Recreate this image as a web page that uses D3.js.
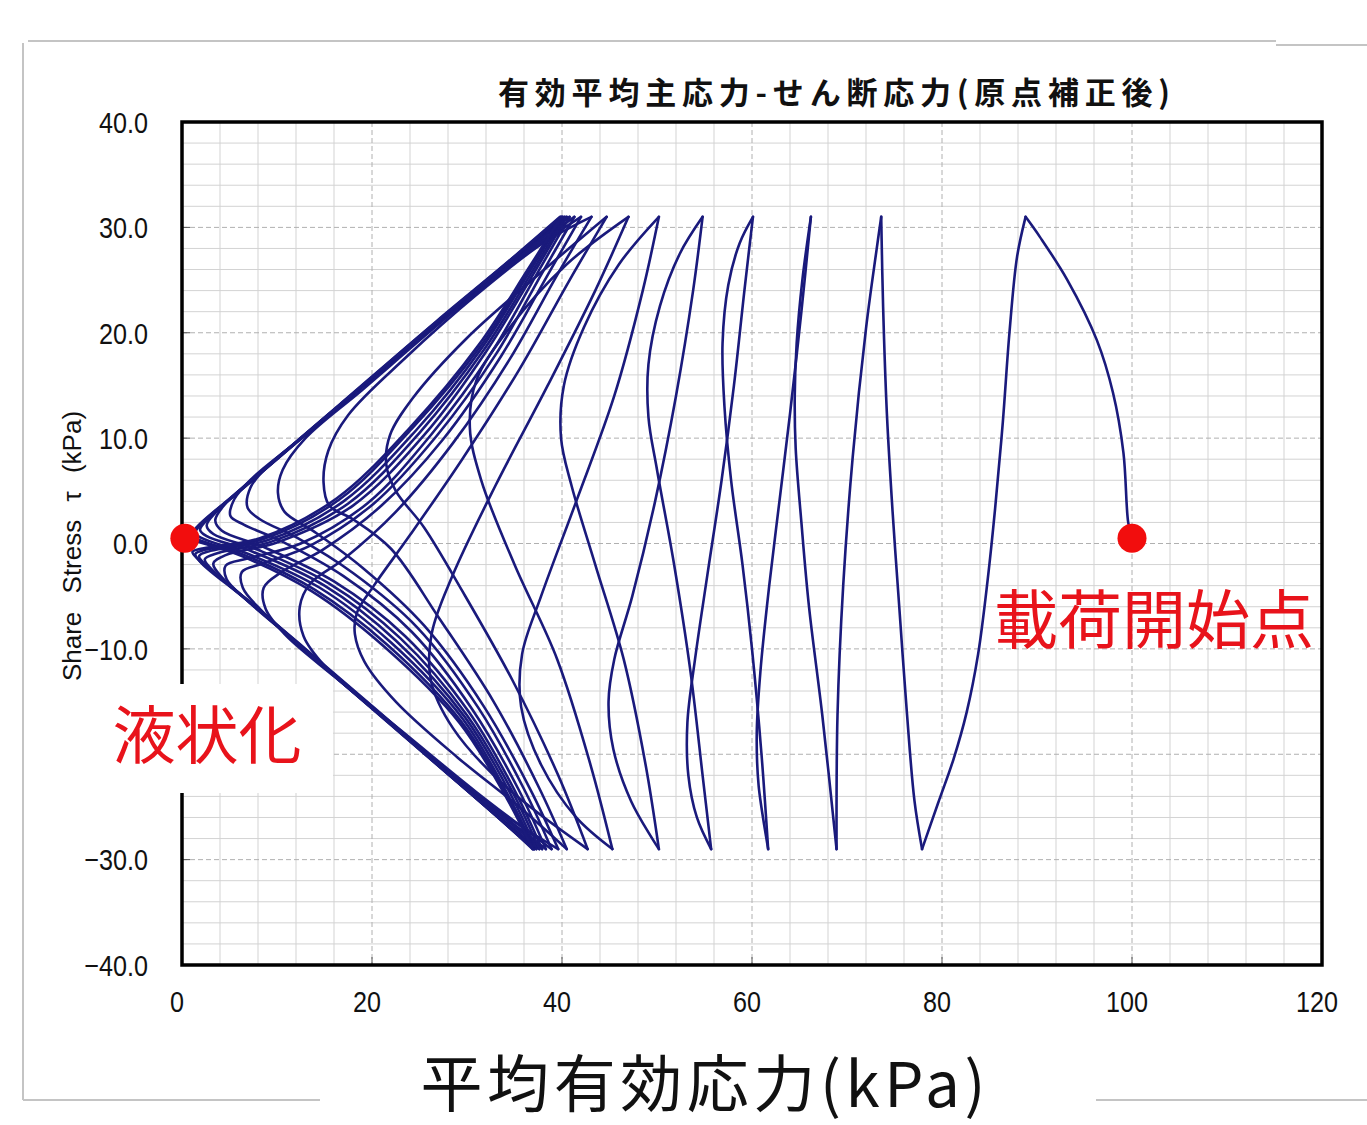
<!DOCTYPE html>
<html>
<head>
<meta charset="utf-8">
<script src="https://cdn.jsdelivr.net/npm/d3@7"></script>
<style>
  body { margin: 0; background: #fff; }
  svg { display: block; }
</style>
</head>
<body>
<div id="chart"></div>
<script>
// axis tick labels
const xTicks = [0, 20, 40, 60, 80, 100, 120];
const yTicks = [-40, -30, -20, -10, 0, 10, 20, 30, 40];

// marked points [p', tau]
const startPoint = [100, 0.5];
const liquefactionPoint = [0.3, 0.5];

// first loading from the start point up to the first compression peak
const firstLoading = [[100, 0.5], [99.6, 2], [99.1, 8.6], [98, 14.3], [96.3, 19.3], [93.2, 25], [90.3, 29.1], [88.8, 31]];

// one array per half cycle: peak -> trough, trough -> next peak
const earlyCycles = [
  [[88.8, 31], [87.9, 27.2], [87.1, 20], [86.4, 11.5], [85.6, 3.4], [84.8, -3.5], [83.8, -10.5], [82.6, -16], [81.2, -20.5], [79.6, -24.6], [77.9, -29]],
  [[77.9, -29], [77.1, -24.4], [76.3, -16], [75.5, -6], [74.8, 3], [74.2, 12.3], [73.8, 22.5], [73.6, 31]],
  [[73.6, 31], [73.1, 27.8], [72, 20.4], [70.6, 8.2], [69.6, -4], [69, -16.3], [68.9, -29]],
  [[68.9, -29], [67.4, -16.3], [66, -6], [65.2, 2], [64.6, 9], [64.5, 14], [64.7, 19], [65.3, 25], [66.2, 31]],
  [[66.2, 31], [65.2, 22], [64, 12.3], [62.9, 4.1], [61.8, -4.1], [60.9, -12], [60.5, -18], [60.7, -23], [61.7, -29]],
  [[61.7, -29], [61, -20], [60, -10], [59, -2], [57.8, 6], [57.1, 13], [56.9, 19], [57.5, 24.5], [58.7, 28.5], [60.1, 31]],
  [[60.1, 31], [59.2, 24], [58.1, 15], [56.8, 6], [55.3, -3], [54, -11], [53.2, -17], [53.3, -22], [54.2, -26], [55.7, -29]],
  [[55.7, -29], [54.8, -22], [53.5, -12], [51.8, -2], [50, 7], [49.1, 12], [49.1, 17], [50.3, 22.5], [52.4, 27.5], [54.8, 31]],
  [[54.8, 31], [53.8, 24], [52, 14], [49.8, 4], [47.4, -5], [45.5, -11], [44.9, -15], [45.4, -19.5], [47.3, -24.5], [50.2, -29]]
];

const middleCycles = [
  [[50.2, -29], [48.8, -21], [46.5, -11], [43.5, -2], [41, 5.5], [39.9, 10], [40.2, 15], [42.3, 20.5], [46, 26.5], [50.2, 31]],
  [[50.2, 31], [48.5, 24], [45.5, 14], [41.5, 4], [37.8, -5], [35.8, -10.5], [35.7, -15.5], [37.8, -21], [41.5, -26], [45.3, -29]],
  [[45.3, -29], [43, -21], [39.5, -11], [35, -2], [31.5, 6], [30.3, 11], [31, 15.5], [34.5, 20.5], [40.5, 26.5], [47, 31]],
  [[47, 31], [43.5, 24], [38.5, 15], [33, 5.5], [28.5, -3], [26.3, -8.5], [26.2, -13], [28.5, -17.5], [34, -23], [42.7, -29]],
  [[42.7, -29], [39.6, -22], [34.8, -13], [29.5, -4.5], [25.5, 1.5], [22.5, 5], [21.5, 7.5], [21.9, 10.3], [24.3, 13.8], [30, 19.5], [37.5, 25.5], [44.7, 31]],
  [[44.7, 31], [40.8, 25], [35.5, 16.5], [29.5, 8], [24, 0.8], [20.2, -4], [18.4, -6.6], [18.2, -8.6], [19.2, -11.2], [22.5, -15], [29, -20.3], [35.5, -25], [40.5, -29]],
  [[40.5, -29], [37.6, -23.2], [32.8, -15], [27, -7], [22, -0.5], [18, 2.3], [15.5, 3.6], [14.9, 5.8], [15.4, 8.8], [17.5, 12.2], [23.5, 17.6], [31, 23.6], [38, 28.5], [43.1, 31]],
  [[43.1, 31], [39.5, 25.5], [34.5, 17.5], [28.5, 9.5], [22.5, 3], [17, -1.5], [13.5, -3.8], [12.4, -6], [12.8, -8.8], [15, -11.6], [20.5, -16], [27.5, -21.2], [34, -25.8], [39.6, -29]],
  [[39.6, -29], [36.7, -23.4], [31.8, -15.5], [25.5, -7.8], [19, -2.3], [13.8, 1.2], [10.8, 3], [10.1, 4.8], [10.6, 7], [13, 10], [19, 14.6], [27, 20.8], [35, 26.7], [42, 31]],
  [[42, 31], [38.5, 25.5], [33.6, 17.8], [27.4, 9.8], [21, 3.6], [14.8, -0.6], [10.5, -2.7], [8.6, -4.2], [8.8, -6.2], [10.8, -8.6], [16, -12.6], [23, -17.7], [31, -23.6], [38.9, -29]]
];

const lateCycles = [
  [[38.9, -29], [36, -23.3], [31.2, -15.6], [24.8, -8], [18, -2.8], [12, 0.6], [8.2, 2.3], [6.9, 3.4], [7.2, 5.3], [9.2, 7.5], [14, 11], [22, 17.2], [30.5, 23.5], [36.5, 27.8], [41.3, 31]],
  [[41.3, 31], [37.8, 25.5], [33, 17.9], [26.8, 10.2], [20.2, 3.8], [13.5, -0.2], [8.5, -1.9], [6.3, -2.7], [6.4, -4.2], [8.3, -6.3], [13, -10], [20.5, -15.8], [29, -22.4], [38.3, -29]],
  [[38.3, -29], [35.4, -23.3], [30.6, -15.8], [24.2, -8.4], [17, -3.1], [10.5, 0.2], [6.5, 1.8], [5.1, 2.6], [5.5, 4.2], [7.4, 6.2], [12, 9.6], [20.5, 16], [29.5, 22.8], [36, 27.6], [40.8, 31]],
  [[40.8, 31], [37.3, 25.5], [32.5, 18], [26.2, 10.3], [19.5, 3.8], [12.5, 0], [7, -1.4], [4.6, -2.1], [4.7, -3.4], [6.6, -5.2], [11, -8.6], [19, -14.7], [28.2, -21.8], [37.9, -29]],
  [[37.9, -29], [35, -23.4], [30.2, -16], [23.5, -8.8], [16, -3.6], [8.5, -0.3], [4.2, 1.2], [3.5, 2.2], [4.6, 3.8], [9, 7.3], [18.5, 14.6], [28.5, 22.2], [35.5, 27.4], [40.5, 31]],
  [[40.5, 31], [37, 25.6], [32, 18.2], [25.5, 10.3], [18, 3.6], [10, 0.1], [4.6, -1.1], [3.3, -1.9], [4.3, -3.3], [8.8, -6.8], [18, -14], [27.5, -21.4], [33.5, -26], [37.6, -29]],
  [[37.6, -29], [34.8, -23.6], [30, -16.3], [23, -9], [15.5, -3.8], [8, -0.6], [3.3, 0.9], [2.6, 1.7], [3.6, 3], [8, 6.5], [18, 14.2], [28, 21.9], [35, 27.2], [40.3, 31]],
  [[40.3, 31], [36.8, 25.7], [31.8, 18.4], [25, 10.5], [17.5, 3.8], [9.5, 0.2], [3.8, -0.9], [2.4, -1.5], [3.4, -2.7], [8, -6.2], [17.5, -13.6], [27, -21.1], [33.2, -25.9], [37.3, -29]],
  [[37.3, -29], [34.6, -23.8], [29.8, -16.5], [22.5, -9.2], [15, -4], [7.5, -0.8], [2.6, 0.7], [1.9, 1.3], [2.8, 2.4], [7, 5.7], [17.5, 13.8], [27.5, 21.5], [34.8, 27], [40.1, 31]],
  [[40.1, 31], [36.6, 25.8], [31.6, 18.6], [24.6, 10.7], [17, 4], [9, 0.3], [3, -0.7], [1.8, -1.2], [2.7, -2.2], [7.4, -5.8], [17, -13.3], [26.8, -20.9], [33, -25.8], [37.1, -29]],
  [[37.1, -29], [34.4, -24], [29.6, -16.7], [22, -9.4], [14.5, -4.2], [7, -1], [2.1, 0.5], [1.4, 1], [2.2, 2], [6.5, 5.3], [17, 13.4], [27.2, 21.3], [34.6, 26.9], [40, 31]],
  [[40, 31], [36.5, 25.9], [31.4, 18.7], [24.2, 10.9], [16.6, 4.2], [8.5, 0.4], [2.4, -0.6], [1.4, -1], [2.1, -1.9], [7, -5.5], [16.7, -13.1], [26.6, -20.8], [32.9, -25.7], [37, -29]],
  [[37, -29], [34.3, -24.1], [29.4, -16.9], [21.6, -9.6], [14, -4.4], [6.6, -1.1], [1.7, 0.4], [1.1, 0.8], [1.8, 1.7], [6.2, 5.1], [16.8, 13.3], [27, 21.2], [34.5, 26.8], [39.9, 31]],
  [[39.9, 31], [36.4, 26], [31.2, 18.8], [24, 11], [16.3, 4.3], [8.2, 0.5], [2, -0.5], [1.1, -0.8], [1.8, -1.6], [6.8, -5.3], [16.5, -12.9], [26.5, -20.7], [32.8, -25.6], [36.9, -29]],
  [[36.9, -29], [34.2, -24.2], [29.2, -17], [21.3, -9.8], [13.6, -4.5], [6.3, -1.2], [1.4, 0.3], [0.9, 0.6], [1.5, 1.5], [6, 5], [16.6, 13.2], [26.8, 21.1], [34.4, 26.8], [39.8, 31]]
];

let width = 1367, height = 1125;

let plot = { left: 182, right: 1322, top: 122, bottom: 965 };

let svg = d3.select("#chart")
  .append("svg")
  .attr("width", width)
  .attr("height", height)
  .style("background", "#fff");

let xscale = d3.scaleLinear()
  .domain([0, 120])
  .range([plot.left, plot.right]);

let yscale = d3.scaleLinear()
  .domain([-40, 40])
  .range([plot.bottom, plot.top]);

// outer frame of the sheet (broken where the axis title sits)
const frame = [
  [28, 41, 1276, 41], [1276, 45, 1367, 45], [23, 43, 23, 1100],
  [23, 1100, 320, 1100], [1096, 1100, 1367, 1100]
];
frame.forEach(f => {
  svg.append("line")
    .attr("x1", f[0]).attr("y1", f[1]).attr("x2", f[2]).attr("y2", f[3])
    .attr("stroke", "#c4c4c4")
    .attr("stroke-width", 2);
});

// minor grid
let xMinor = d3.range(0, 121, 4).filter(d => d % 20 !== 0);
let yMinor = d3.range(-40, 41, 2).filter(d => d % 10 !== 0);

svg.append("g").selectAll("line")
  .data(xMinor)
  .join("line")
  .attr("x1", d => xscale(d)).attr("x2", d => xscale(d))
  .attr("y1", plot.top).attr("y2", plot.bottom)
  .attr("stroke", "#d3d3d3")
  .attr("stroke-width", 1);

svg.append("g").selectAll("line")
  .data(yMinor)
  .join("line")
  .attr("x1", plot.left).attr("x2", plot.right)
  .attr("y1", d => yscale(d)).attr("y2", d => yscale(d))
  .attr("stroke", "#d3d3d3")
  .attr("stroke-width", 1);

// major grid, dashed
svg.append("g").selectAll("line")
  .data(xTicks.slice(1, -1))
  .join("line")
  .attr("x1", d => xscale(d)).attr("x2", d => xscale(d))
  .attr("y1", plot.top).attr("y2", plot.bottom)
  .attr("stroke", "#b0b0b0")
  .attr("stroke-dasharray", "5,3")
  .attr("stroke-width", 1);

svg.append("g").selectAll("line")
  .data(yTicks.slice(1, -1))
  .join("line")
  .attr("x1", plot.left).attr("x2", plot.right)
  .attr("y1", d => yscale(d)).attr("y2", d => yscale(d))
  .attr("stroke", "#b0b0b0")
  .attr("stroke-dasharray", "5,3")
  .attr("stroke-width", 1);

// small inner ticks
svg.append("g").selectAll("line")
  .data(yTicks)
  .join("line")
  .attr("x1", plot.left).attr("x2", plot.left + 8)
  .attr("y1", d => yscale(d)).attr("y2", d => yscale(d))
  .attr("stroke", "#555");

svg.append("g").selectAll("line")
  .data(xTicks)
  .join("line")
  .attr("x1", d => xscale(d)).attr("x2", d => xscale(d))
  .attr("y1", plot.bottom).attr("y2", plot.bottom - 8)
  .attr("stroke", "#555");

// tick labels, narrow like the original sheet
// (-20.0 sits under the 液状化 note in the original, so it is left out)
const tickFont = "'Liberation Sans', Arial, sans-serif";

svg.append("g").selectAll("text")
  .data(yTicks.filter(d => d !== -20))
  .join("text")
  .attr("transform", d => `translate(148, ${yscale(d)}) scale(0.84, 1)`)
  .attr("dy", "0.36em")
  .attr("text-anchor", "end")
  .attr("font-family", tickFont)
  .attr("font-size", 30)
  .attr("fill", "#111")
  .text(d => d3.format(".1f")(d));

svg.append("g").selectAll("text")
  .data(xTicks)
  .join("text")
  .attr("transform", d => `translate(${xscale(d) - 5}, 1012) scale(0.84, 1)`)
  .attr("text-anchor", "middle")
  .attr("font-family", tickFont)
  .attr("font-size", 30)
  .attr("fill", "#111")
  .text(d => d);

// stress path
let line = d3.line()
  .x(d => xscale(d[0]))
  .y(d => yscale(d[1]))
  .curve(d3.curveCatmullRom.alpha(0.5));

let segments = [firstLoading, ...earlyCycles, ...middleCycles, ...lateCycles];

svg.append("g").selectAll("path")
  .data(segments)
  .join("path")
  .attr("d", d => line(d))
  .attr("fill", "none")
  .attr("stroke", "#1a1a7c")
  .attr("stroke-width", 2.6)
  .attr("stroke-linejoin", "round")
  .attr("stroke-linecap", "round");

// plot border
svg.append("rect")
  .attr("x", plot.left)
  .attr("y", plot.top)
  .attr("width", plot.right - plot.left)
  .attr("height", plot.bottom - plot.top)
  .attr("fill", "none")
  .attr("stroke", "#000")
  .attr("stroke-width", 3.5);

// marked points
svg.append("g").selectAll("circle")
  .data([startPoint, liquefactionPoint])
  .join("circle")
  .attr("cx", d => xscale(d[0]))
  .attr("cy", d => yscale(d[1]))
  .attr("r", 14.5)
  .attr("fill", "#f20d0d");

// title
svg.append("text")
  .attr("x", 834)
  .attr("y", 93)
  .attr("dy", "0.36em")
  .attr("text-anchor", "middle")
  .attr("font-family", "'Noto Sans CJK JP', sans-serif")
  .attr("font-weight", 700)
  .attr("font-size", 31)
  .attr("textLength", 672)
  .attr("lengthAdjust", "spacing")
  .attr("fill", "#111")
  .text("有効平均主応力-せん断応力(原点補正後)");

// annotation box that hides part of the frame
svg.append("rect")
  .attr("x", 40)
  .attr("y", 684)
  .attr("width", 293)
  .attr("height", 109)
  .attr("fill", "#fff");

// y axis title
svg.append("text")
  .attr("transform", "translate(72, 546) rotate(-90)")
  .attr("dy", "0.35em")
  .attr("text-anchor", "middle")
  .attr("font-family", "'Liberation Sans', Arial, sans-serif")
  .attr("font-size", 26)
  .attr("word-spacing", 11)
  .attr("fill", "#111")
  .text("Share Stress τ (kPa)");

// x axis title
svg.append("text")
  .attr("x", 703)
  .attr("y", 1085)
  .attr("dy", "0.36em")
  .attr("text-anchor", "middle")
  .attr("font-family", "'Noto Sans CJK JP', sans-serif")
  .attr("font-size", 62)
  .attr("textLength", 565)
  .attr("lengthAdjust", "spacing")
  .attr("fill", "#111")
  .text("平均有効応力(kPa)");

// annotations
svg.append("text")
  .attr("x", 207)
  .attr("y", 735)
  .attr("dy", "0.36em")
  .attr("text-anchor", "middle")
  .attr("font-family", "'Noto Sans CJK JP', sans-serif")
  .attr("font-size", 63)
  .attr("fill", "#e8131b")
  .text("液状化");

svg.append("text")
  .attr("x", 1154)
  .attr("y", 620)
  .attr("dy", "0.36em")
  .attr("text-anchor", "middle")
  .attr("font-family", "'Noto Sans CJK JP', sans-serif")
  .attr("font-size", 64)
  .attr("fill", "#e8131b")
  .text("載荷開始点");
</script>
</body>
</html>
